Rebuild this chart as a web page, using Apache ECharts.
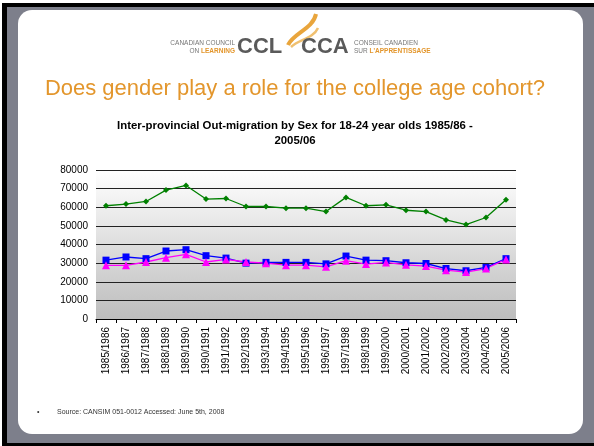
<!DOCTYPE html>
<html>
<head>
<meta charset="utf-8">
<script src="https://cdn.jsdelivr.net/npm/echarts@6/dist/echarts.min.js"></script>
<style>
  html, body { margin: 0; padding: 0; background: #fff; }
  #frame { position: relative; width: 594px; height: 446px; overflow: hidden; background: #fff; }
  #black { position: absolute; left: 2px; top: 3px; width: 592px; height: 443px; background: #000; }
  #gray { position: absolute; left: 7px; top: 7px; width: 587px; height: 436px; background: #7d7f8b; }
  #slide { position: absolute; left: 18px; top: 10px; width: 565px; height: 424px; background: #fff; border-radius: 14px; }
  #chart { position: absolute; left: 0; top: 0; width: 594px; height: 446px; }
</style>
</head>
<body>
<div id="frame">
  <div id="black"></div>
  <div id="gray"></div>
  <div id="slide"></div>
  <div id="chart"></div>
</div>
<script>
var years = [
    '1985/1986', '1986/1987', '1987/1988', '1988/1989', '1989/1990', '1990/1991', '1991/1992',
    '1992/1993', '1993/1994', '1994/1995', '1995/1996', '1996/1997', '1997/1998', '1998/1999',
    '1999/2000', '2000/2001', '2001/2002', '2002/2003', '2003/2004', '2004/2005', '2005/2006'
];
// total (green)
var total = [60800, 61700, 63100, 69200, 71700, 64400, 64700, 60400, 60400, 59500, 59500,
    57700, 65300, 60800, 61300, 58400, 57700, 53200, 50700, 54500, 64000];
// males (blue squares)
var males = [31600, 33300, 32400, 36500, 37200, 34000, 32700, 30000, 30400, 30400, 30400,
    29600, 33800, 31600, 31300, 30200, 29800, 27100, 25900, 27700, 32400];
// females (pink triangles)
var females = [28800, 28800, 30600, 32900, 34700, 30600, 32000, 30600, 30000, 28900, 28900,
    28000, 31300, 29500, 30400, 29100, 28400, 26200, 25200, 27100, 32000];
var yTicks = [0, 10000, 20000, 30000, 40000, 50000, 60000, 70000, 80000];

var font = '"Liberation Sans", Arial, sans-serif';
var orange = '#e3962c';

var myChart = echarts.init(document.getElementById('chart'), null, {renderer: 'canvas'});

var option = {
    backgroundColor: 'transparent',
    animation: false,
    title: [
        {
            text: 'Does gender play a role for the college age cohort?',
            left: 290,
            top: 73,
            textAlign: 'center',
            textStyle: {color: orange, fontSize: 22, fontWeight: 'normal', fontFamily: font}
        },
        {
            text: 'Inter-provincial Out-migration by Sex for 18-24 year olds 1985/86 -\n2005/06',
            left: 290,
            top: 113,
            textAlign: 'center',
            textStyle: {color: '#000', fontSize: 11.4, fontWeight: 'bold', fontFamily: font, lineHeight: 15}
        }
    ],
    graphic: [
        // logo flame
        {
            type: 'bezierCurve',
            shape: {x1: 288, y1: 45, x2: 316, y2: 14, cpx1: 293, cpy1: 33, cpx2: 313, cpy2: 29},
            style: {stroke: '#e9a53c', lineWidth: 4, fill: null}
        },
        {
            type: 'bezierCurve',
            shape: {x1: 291, y1: 47, x2: 318, y2: 28, cpx1: 299, cpy1: 39, cpx2: 313, cpy2: 39},
            style: {stroke: '#f0c070', lineWidth: 2.5, fill: null}
        },
        {
            type: 'text',
            x: 235, y: 40,
            style: {text: 'CANADIAN COUNCIL', fill: '#777', font: '6.5px ' + font, align: 'right'}
        },
        {
            type: 'text',
            x: 235, y: 48,
            style: {
                text: '{a|ON }{b|LEARNING}',
                align: 'right',
                rich: {
                    a: {fill: '#777', font: '6.5px ' + font},
                    b: {fill: '#e3962c', font: 'bold 6.5px ' + font}
                }
            }
        },
        {
            type: 'text',
            x: 237, y: 36,
            style: {text: 'CCL', fill: '#5a5a5a', font: 'bold 22px ' + font}
        },
        {
            type: 'text',
            x: 301, y: 36,
            style: {text: 'CCA', fill: '#5a5a5a', font: 'bold 22px ' + font}
        },
        {
            type: 'text',
            x: 354, y: 40,
            style: {text: 'CONSEIL CANADIEN', fill: '#777', font: '6.5px ' + font}
        },
        {
            type: 'text',
            x: 354, y: 48,
            style: {
                text: '{a|SUR }{b|L\'APPRENTISSAGE}',
                rich: {
                    a: {fill: '#777', font: '6.5px ' + font},
                    b: {fill: '#e3962c', font: 'bold 6.5px ' + font}
                }
            }
        },
        // source note
        {
            type: 'text',
            x: 37, y: 409,
            style: {text: '\u2022', fill: '#333', font: '7px ' + font}
        },
        {
            type: 'text',
            x: 57, y: 409,
            style: {text: 'Source: CANSIM 051-0012 Accessed: June 5th, 2008', fill: '#333', font: '7px ' + font}
        }
    ],
    grid: {
        left: 96,
        right: 78,
        top: 170,
        bottom: 127,
        show: true,
        borderWidth: 0,
        backgroundColor: {
            type: 'linear', x: 0, y: 0, x2: 0, y2: 1,
            colorStops: [
                {offset: 0, color: '#ffffff'},
                {offset: 1, color: '#bdbdbd'}
            ]
        }
    },
    xAxis: {
        type: 'category',
        data: years,
        boundaryGap: true,
        axisLine: {lineStyle: {color: '#000', width: 1}},
        axisTick: {show: true, length: 4, lineStyle: {color: '#000'}},
        axisLabel: {rotate: 90, interval: 0, color: '#000', fontSize: 10, fontFamily: font, margin: 8}
    },
    yAxis: {
        type: 'value',
        min: yTicks[0],
        max: yTicks[yTicks.length - 1],
        interval: yTicks[1] - yTicks[0],
        axisLine: {show: false},
        axisTick: {show: false},
        axisLabel: {
            color: '#000', fontSize: 10, fontFamily: font, margin: 8,
            formatter: function (v) { return String(v); }
        },
        splitLine: {lineStyle: {color: '#222', width: 1}}
    },
    series: [
        {
            name: 'Total',
            type: 'line',
            data: total,
            symbol: 'diamond',
            symbolSize: 6,
            itemStyle: {color: '#008000'},
            lineStyle: {color: '#008000', width: 1.3}
        },
        {
            name: 'Males',
            type: 'line',
            data: males,
            symbol: 'rect',
            symbolSize: 7,
            itemStyle: {color: '#0000ff'},
            lineStyle: {color: '#0000ff', width: 1.3}
        },
        {
            name: 'Females',
            type: 'line',
            data: females,
            symbol: 'triangle',
            symbolSize: 8,
            itemStyle: {color: '#ff00ff'},
            lineStyle: {color: '#ff00ff', width: 1.3}
        }
    ]
};
myChart.setOption(option);
</script>
</body>
</html>
